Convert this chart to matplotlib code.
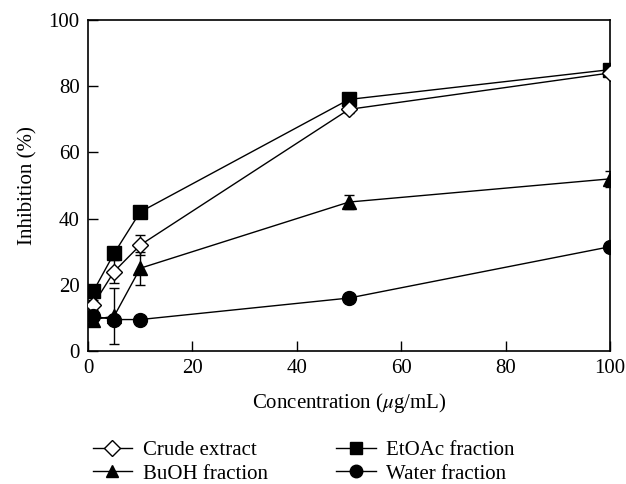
#!/usr/bin/env python3

"""Inhibition (%) vs concentration for extract fractions."""

import matplotlib
matplotlib.use("Agg")
import matplotlib.pyplot as plt
from matplotlib.lines import Line2D

conc = [1, 5, 10, 50, 100]

crude = [14, 24, 32, 73, 84]
crude_err = [1.5, 3.5, 3, 1, 1]
etoac = [18, 29.5, 42, 76, 85]
etoac_err = [1, 1, 1, 1, 1]
buoh = [9.5, 10.5, 25, 45, 52]
buoh_err = [1, 8.5, 5, 2, 2.5]
water = [10.5, 9.5, 9.5, 16, 31.5]
water_err = [1, 1, 0.5, 1, 1]

x_ticks = [0, 20, 40, 60, 80, 100]
y_ticks = [0, 20, 40, 60, 80, 100]

plt.rcParams["font.family"] = ["Liberation Serif", "DejaVu Serif"]
plt.rcParams["mathtext.fontset"] = "stix"

fig = plt.figure(figsize=(6.26, 4.84), dpi=100)
ax = fig.add_axes([0.1406, 0.2748, 0.8338, 0.6839])

err_style = dict(color="black", linewidth=1.0, elinewidth=1.0, capsize=3.5,
                 capthick=1.0, ecolor="black")

# (values, errors, marker, face, size, zorder, label)
series = [
    (crude, crude_err, "D", "white", 8.5, 4, "Crude extract"),
    (buoh, buoh_err, "^", "black", 10, 2, "BuOH fraction"),
    (etoac, etoac_err, "s", "black", 10, 3, "EtOAc fraction"),
    (water, water_err, "o", "black", 10, 5, "Water fraction"),
]

handles = []
labels = []
for vals, errs, mk, face, ms, z, label in series:
    ax.errorbar(conc, vals, yerr=errs, marker=mk, markersize=ms,
                markerfacecolor=face, markeredgecolor="black",
                markeredgewidth=1.0, zorder=z, **err_style)
    handles.append(Line2D([], [], color="black", linewidth=1.0, marker=mk,
                          markersize=ms * 0.9, markerfacecolor=face,
                          markeredgecolor="black"))
    labels.append(label)

ax.set_xlim(0, 100)
ax.set_ylim(0, 100)
ax.set_xticks(x_ticks)
ax.set_yticks(y_ticks)
ax.tick_params(direction="in", length=7, width=1.0, labelsize=15,
               top=False, right=False, pad=6)
for spine in ax.spines.values():
    spine.set_linewidth(1.2)

ax.set_xlabel(r"Concentration ($\mu$g/mL)", fontsize=15, labelpad=9)
ax.set_ylabel("Inhibition (%)", fontsize=15, labelpad=8)

fig.legend(
    handles,
    labels,
    ncol=2,
    loc="upper left",
    bbox_to_anchor=(0.148, 0.09),
    frameon=False,
    fontsize=15,
    handlelength=1.9,
    handletextpad=0.5,
    columnspacing=3.3,
    labelspacing=0.2,
    borderpad=0,
    borderaxespad=0,
)

fig.savefig("out.png", dpi=100)
